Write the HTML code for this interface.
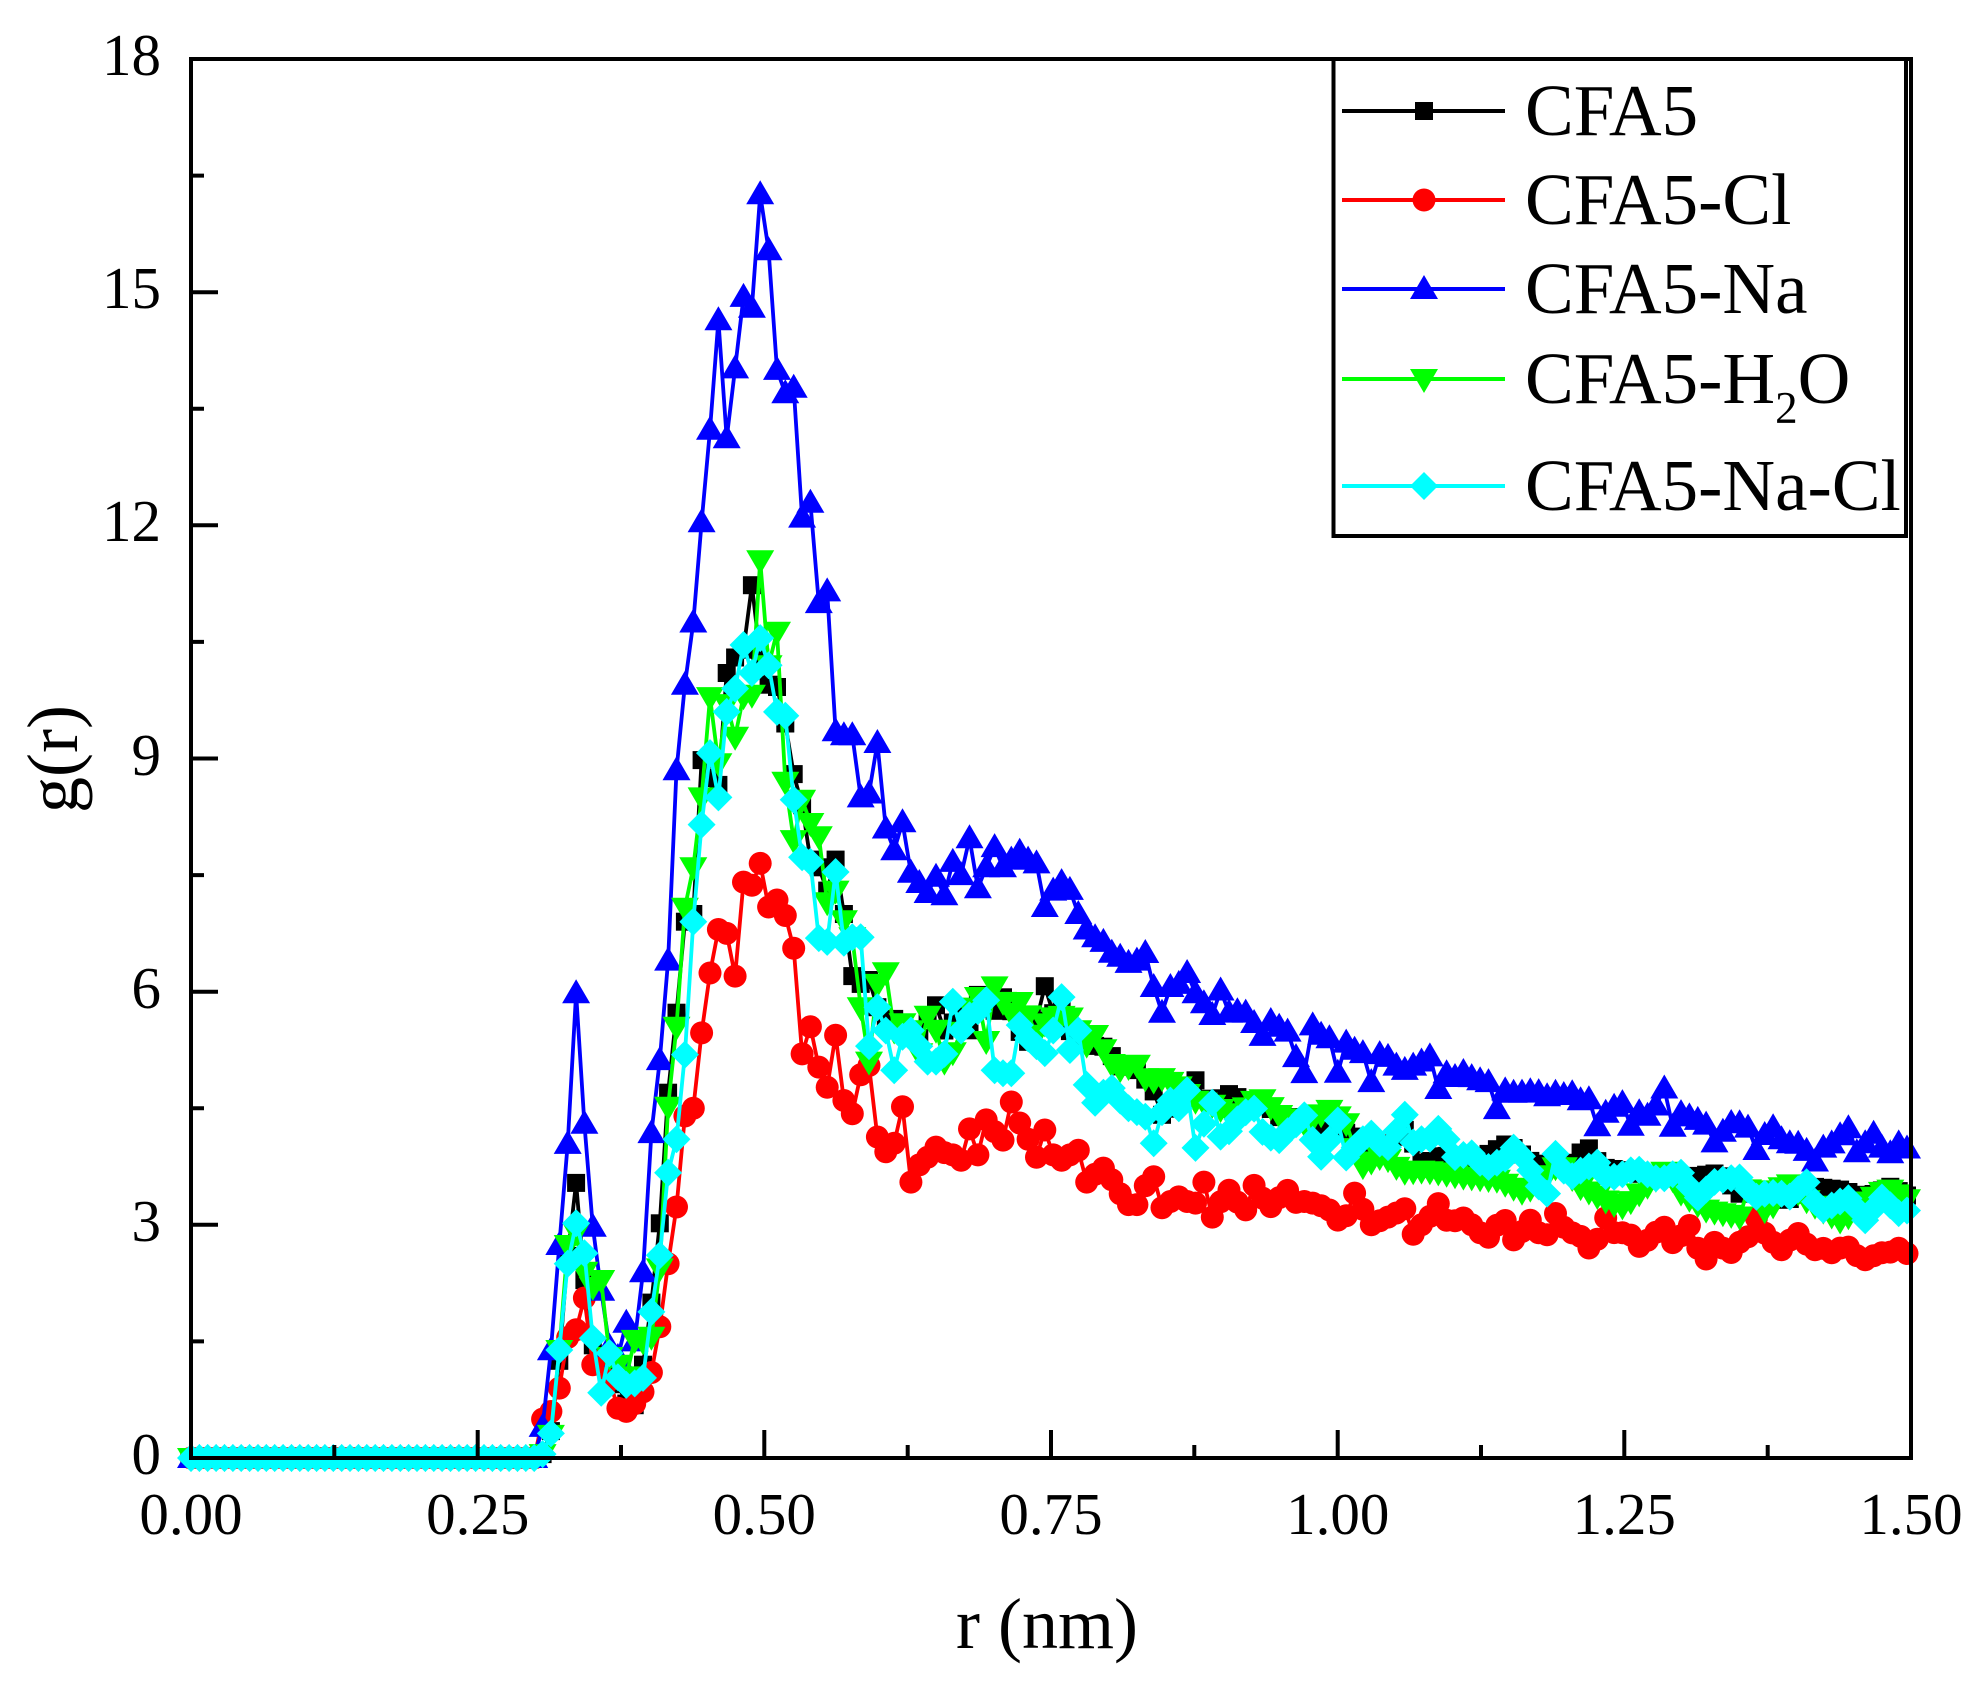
<!DOCTYPE html>
<html>
<head>
<meta charset="utf-8">
<style>
html,body{margin:0;padding:0;background:#fff;}
svg{display:block;}
text{font-family:"Liberation Serif","Times New Roman",serif;fill:#000;}
</style>
</head>
<body>
<svg id="plot" width="1983" height="1685" viewBox="0 0 1983 1685" xmlns="http://www.w3.org/2000/svg">
<rect x="0" y="0" width="1983" height="1685" fill="#fff"/>
<g id="series"></g>
<!-- frame -->
<rect x="191" y="59" width="1720" height="1399" fill="none" stroke="#000" stroke-width="4"/>
<!-- ticks -->
<path fill="none" stroke="#000" stroke-width="4" d="
M191 1458 V1430 M477.7 1458 V1430 M764.3 1458 V1430 M1051 1458 V1430 M1337.7 1458 V1430 M1624.3 1458 V1430 M1911 1458 V1430
M334.3 1458 V1445 M621 1458 V1445 M907.7 1458 V1445 M1194.3 1458 V1445 M1481 1458 V1445 M1767.7 1458 V1445
M191 1458 H218 M191 1224.8 H218 M191 991.7 H218 M191 758.5 H218 M191 525.3 H218 M191 292.2 H218 M191 59 H218
M191 1341.4 H204 M191 1108.3 H204 M191 875.1 H204 M191 641.9 H204 M191 408.8 H204 M191 175.6 H204"/>
<!-- y tick labels -->
<g font-size="59" text-anchor="end">
<text x="161" y="1474">0</text>
<text x="161" y="1241">3</text>
<text x="161" y="1008">6</text>
<text x="161" y="775">9</text>
<text x="161" y="541">12</text>
<text x="161" y="308">15</text>
<text x="161" y="75">18</text>
</g>
<!-- x tick labels -->
<g font-size="59" text-anchor="middle">
<text x="191" y="1534">0.00</text>
<text x="477.7" y="1534">0.25</text>
<text x="764.3" y="1534">0.50</text>
<text x="1051" y="1534">0.75</text>
<text x="1337.7" y="1534">1.00</text>
<text x="1624.3" y="1534">1.25</text>
<text x="1911" y="1534">1.50</text>
</g>
<!-- axis titles -->
<text x="1047" y="1648" font-size="72" text-anchor="middle">r (nm)</text>
<text transform="translate(77,759) rotate(-90)" x="0" y="0" font-size="72" text-anchor="middle">g(r)</text>
<!-- legend -->
<rect x="1333.5" y="59" width="572.5" height="477" fill="#fff" stroke="#000" stroke-width="4"/>
<g stroke-width="4">
<line x1="1342" y1="111" x2="1505" y2="111" stroke="#000"/>
<rect x="1415" y="102" width="18" height="18" fill="#000"/>
<line x1="1342" y1="200" x2="1505" y2="200" stroke="#ff0000"/>
<circle cx="1424" cy="200" r="11.5" fill="#ff0000"/>
<line x1="1342" y1="289" x2="1505" y2="289" stroke="#0000ff"/>
<polygon points="1424,275 1410,299 1438,299" fill="#0000ff"/>
<line x1="1342" y1="379" x2="1505" y2="379" stroke="#00ff00"/>
<polygon points="1410,369 1438,369 1424,393" fill="#00ff00"/>
<line x1="1342" y1="486" x2="1505" y2="486" stroke="#00ffff"/>
<polygon points="1424,472 1438,486 1424,500 1410,486" fill="#00ffff"/>
</g>
<g font-size="73">
<text x="1525" y="135">CFA5</text>
<text x="1525" y="224">CFA5-Cl</text>
<text x="1525" y="313">CFA5-Na</text>
<text x="1525" y="403">CFA5-H<tspan font-size="45" dy="20">2</tspan><tspan dy="-20">O</tspan></text>
<text x="1525" y="510">CFA5-Na-Cl</text>
</g>
</svg>
<script>
(function(){
var BLUE="0,0 0.2993,0 0.3066,0.4 0.314,1.4 0.3212,2.74 0.329,4.13 0.3358,5.98 0.343,4.32 0.350,3.02 0.357,2.23 0.364,1.45 0.3723,1.3 0.3796,1.74 0.3869,1.5 0.3942,2.39 0.4015,4.18 0.4088,5.12 0.4161,6.4 0.4234,8.85 0.4307,9.95 0.438,10.75 0.4453,12.04 0.4526,13.23 0.4599,14.64 0.4672,13.12 0.4745,14.02 0.4818,14.94 0.4891,14.8 0.4964,16.26 0.5037,15.54 0.511,14.0 0.5183,13.7 0.5256,13.77 0.5329,12.1 0.5402,12.29 0.5475,11.0 0.5548,11.15 0.5621,9.35 0.5694,9.3 0.5767,9.3 0.584,8.5 0.5913,8.55 0.5986,9.2 0.6059,8.1 0.6132,7.82 0.6205,8.18 0.6278,7.53 0.635,7.4 0.6424,7.27 0.6497,7.48 0.657,7.24 0.6643,7.67 0.6716,7.5 0.679,7.98 0.6862,7.33 0.6935,7.6 0.7008,7.86 0.7081,7.6 0.7154,7.7 0.7227,7.8 0.73,7.7 0.7373,7.65 0.7446,7.09 0.7519,7.3 0.7592,7.41 0.7665,7.31 0.7738,7.0 0.7811,6.8 0.7884,6.7 0.7957,6.64 0.803,6.5 0.8103,6.45 0.8176,6.37 0.825,6.4 0.832,6.51 0.8395,6.06 0.8468,5.73 0.854,6.06 0.8614,6.1 0.8687,6.24 0.876,5.98 0.8833,5.85 0.8906,5.7 0.898,6.02 0.905,5.73 0.912,5.75 0.92,5.73 0.927,5.6 0.934,5.42 0.942,5.63 0.949,5.55 0.956,5.5 0.964,5.14 0.971,4.95 0.978,5.57 0.985,5.45 0.993,5.4 1.0,4.95 1.007,5.35 1.015,5.25 1.022,5.21 1.029,4.82 1.036,5.2 1.044,5.16 1.051,5.05 1.058,4.99 1.066,5.05 1.073,5.1 1.08,5.19 1.088,4.73 1.095,4.95 1.102,4.9 1.11,4.97 1.117,4.9 1.124,4.86 1.131,4.86 1.139,4.48 1.146,4.73 1.153,4.7 1.16,4.7 1.168,4.72 1.175,4.71 1.182,4.65 1.19,4.7 1.197,4.67 1.204,4.7 1.212,4.6 1.219,4.62 1.226,4.26 1.234,4.45 1.241,4.52 1.248,4.58 1.255,4.26 1.263,4.45 1.27,4.4 1.277,4.52 1.285,4.76 1.292,4.26 1.299,4.44 1.306,4.4 1.314,4.35 1.321,4.3 1.328,4.05 1.336,4.2 1.343,4.31 1.35,4.31 1.358,4.25 1.365,3.96 1.372,4.15 1.38,4.26 1.387,4.1 1.394,4.05 1.401,4.05 1.409,3.95 1.416,3.81 1.423,3.99 1.431,4.05 1.438,4.15 1.445,4.26 1.453,3.92 1.46,4.05 1.467,4.18 1.474,4.0 1.482,3.92 1.489,4.05 1.5,3.95";
var BLACK="0,0 0.2993,0 0.3066,0.05 0.314,0.35 0.3212,1.25 0.3285,2.6 0.3358,3.54 0.343,2.3 0.3504,1.45 0.3577,1.3 0.365,1.05 0.3723,0.95 0.3796,0.7 0.3869,0.68 0.3942,1.2 0.4015,2.0 0.4088,3.02 0.4161,4.7 0.4234,5.73 0.4307,6.9 0.438,7.0 0.4453,8.98 0.4526,8.75 0.4599,8.66 0.4672,10.1 0.4745,10.3 0.4818,10.4 0.4891,11.23 0.4964,10.3 0.5037,9.95 0.511,9.92 0.5183,9.45 0.5256,8.8 0.5329,8.4 0.5402,7.7 0.5475,7.6 0.5548,7.3 0.5621,7.7 0.5694,7.0 0.5767,6.2 0.584,6.1 0.5913,6.15 0.5986,5.8 0.6059,5.6 0.6132,5.65 0.6205,5.6 0.6278,5.5 0.635,5.4 0.6424,5.7 0.65,5.83 0.657,5.5 0.664,5.6 0.672,5.7 0.679,5.5 0.686,5.96 0.694,5.9 0.701,5.75 0.711,6.0 0.718,5.6 0.726,5.4 0.734,5.31 0.743,6.18 0.75,5.7 0.758,5.8 0.766,5.5 0.773,5.4 0.781,5.34 0.789,5.3 0.798,5.29 0.806,5.1 0.813,5.0 0.821,5.06 0.83,4.9 0.837,4.8 0.843,4.6 0.849,4.31 0.857,4.6 0.865,4.7 0.876,4.86 0.884,4.6 0.894,4.6 0.909,4.71 0.92,4.5 0.93,4.55 0.941,4.5 0.955,4.3 0.965,4.4 0.979,4.37 0.99,4.2 1.002,4.22 1.02,4.1 1.04,4.0 1.06,4.24 1.074,3.77 1.09,3.9 1.11,3.85 1.13,3.9 1.148,4.05 1.17,3.8 1.19,3.75 1.205,3.8 1.217,4.03 1.23,3.74 1.25,3.7 1.28,3.6 1.3,3.6 1.333,3.67 1.35,3.4 1.37,3.45 1.39,3.3 1.415,3.49 1.44,3.45 1.46,3.35 1.482,3.49 1.5,3.35";
var RED="0,0 0.2993,0 0.3066,0.5 0.314,0.6 0.3212,0.9 0.3285,1.55 0.3358,1.65 0.343,2.07 0.3504,1.2 0.3577,1.25 0.365,1.0 0.3723,0.64 0.3796,0.6 0.3869,0.7 0.3942,0.85 0.4015,1.1 0.4088,1.69 0.4161,2.5 0.4234,3.23 0.4307,4.4 0.438,4.5 0.4453,5.47 0.4526,6.24 0.4599,6.8 0.4672,6.75 0.4745,6.2 0.4818,7.41 0.4891,7.37 0.4964,7.65 0.5037,7.09 0.511,7.18 0.5183,6.98 0.5256,6.56 0.5329,5.2 0.5402,5.55 0.5475,5.03 0.5548,4.77 0.5621,5.44 0.5694,4.6 0.5767,4.43 0.584,4.93 0.5913,5.05 0.5986,4.13 0.6059,3.94 0.6132,4.05 0.6205,4.52 0.6278,3.55 0.635,3.77 0.6424,3.87 0.6497,4.0 0.657,3.93 0.6643,3.9 0.6716,3.83 0.679,4.24 0.6862,3.9 0.6935,4.35 0.7008,4.2 0.7081,4.09 0.7154,4.58 0.7227,4.31 0.73,4.1 0.7373,3.87 0.7446,4.22 0.7519,3.9 0.7592,3.83 0.7665,3.9 0.7738,3.96 0.7811,3.55 0.7884,3.65 0.7957,3.73 0.803,3.58 0.8103,3.4 0.8176,3.26 0.825,3.26 0.832,3.5 0.8395,3.62 0.8468,3.22 0.854,3.3 0.8614,3.36 0.8687,3.3 0.876,3.28 0.8833,3.55 0.8906,3.1 0.898,3.3 0.905,3.45 0.912,3.3 0.92,3.19 0.927,3.51 0.934,3.35 0.942,3.23 0.949,3.35 0.956,3.45 0.964,3.28 0.971,3.3 0.978,3.28 0.985,3.25 0.993,3.19 1.0,3.06 1.007,3.1 1.015,3.42 1.022,3.2 1.029,3.0 1.036,3.05 1.044,3.1 1.051,3.15 1.058,3.23 1.066,2.87 1.073,3.0 1.08,3.1 1.088,3.28 1.095,3.06 1.102,3.05 1.11,3.09 1.117,3.0 1.124,2.9 1.131,2.83 1.139,3.0 1.146,3.06 1.153,2.8 1.16,2.9 1.168,3.06 1.175,2.9 1.182,2.85 1.19,3.15 1.197,2.97 1.204,2.9 1.212,2.85 1.219,2.7 1.226,2.8 1.234,3.1 1.241,2.9 1.248,2.9 1.255,2.88 1.263,2.72 1.27,2.8 1.277,2.9 1.285,2.97 1.292,2.77 1.299,2.85 1.306,3.02 1.314,2.7 1.321,2.55 1.328,2.78 1.336,2.7 1.343,2.64 1.35,2.77 1.358,2.85 1.365,3.09 1.372,2.9 1.38,2.77 1.387,2.68 1.394,2.8 1.401,2.9 1.409,2.75 1.416,2.68 1.423,2.7 1.431,2.64 1.438,2.7 1.445,2.72 1.453,2.6 1.46,2.55 1.467,2.6 1.474,2.64 1.482,2.65 1.489,2.7 1.5,2.6";
var GREEN="0,0 0.2993,0 0.3066,0.05 0.314,0.3 0.3212,1.39 0.3285,2.74 0.3358,2.9 0.343,2.4 0.3504,2.2 0.3577,2.29 0.365,1.3 0.3723,1.2 0.3796,1.05 0.3869,1.52 0.3942,1.5 0.4015,1.56 0.4088,2.44 0.4161,4.52 0.4234,5.55 0.4307,7.08 0.438,7.6 0.4453,8.5 0.4526,9.79 0.4599,8.94 0.4672,9.7 0.4745,9.28 0.4818,9.8 0.4891,9.82 0.4964,11.55 0.5037,10.2 0.511,10.63 0.5183,8.7 0.5256,7.95 0.5329,8.47 0.5402,8.17 0.5475,8.0 0.5548,7.15 0.5621,7.3 0.5694,6.92 0.5767,6.7 0.584,5.8 0.5913,5.1 0.5986,6.1 0.6059,6.25 0.6132,5.5 0.62,5.6 0.628,5.5 0.635,5.2 0.643,5.73 0.65,5.5 0.657,5.1 0.664,5.21 0.672,5.5 0.679,5.8 0.686,5.95 0.693,5.31 0.70,6.09 0.707,5.9 0.714,5.7 0.726,5.93 0.735,5.4 0.745,5.6 0.755,5.7 0.769,5.66 0.78,5.3 0.79,5.47 0.80,5.1 0.81,5.0 0.825,5.06 0.835,4.82 0.845,4.9 0.86,4.8 0.875,4.6 0.89,4.55 0.91,4.4 0.932,4.65 0.95,4.4 0.97,4.3 0.993,4.48 1.008,4.3 1.02,3.74 1.04,3.9 1.056,3.68 1.075,3.7 1.09,3.67 1.11,3.62 1.139,3.58 1.163,3.41 1.18,3.6 1.194,3.8 1.21,3.5 1.238,3.28 1.25,3.23 1.27,3.5 1.287,3.71 1.30,3.4 1.322,3.19 1.353,3.1 1.36,3.62 1.375,3.1 1.39,3.58 1.41,3.3 1.44,3.04 1.46,3.3 1.48,3.47 1.5,3.3";
var CYAN="0,0 0.2993,0 0.3066,0.05 0.314,0.32 0.3212,1.39 0.3285,2.5 0.3358,3.02 0.343,2.65 0.3504,1.54 0.3577,0.84 0.365,1.35 0.3723,1.04 0.3796,0.94 0.3869,0.96 0.3942,1.03 0.4015,1.88 0.4088,2.61 0.4161,3.67 0.4234,4.1 0.4307,5.19 0.438,6.9 0.4453,8.15 0.4526,9.07 0.4599,8.5 0.4672,9.6 0.4745,9.9 0.4818,10.46 0.4891,10.1 0.4964,10.55 0.5037,10.2 0.511,9.6 0.5183,9.55 0.5256,8.47 0.5329,7.73 0.5402,7.67 0.5475,6.69 0.5548,6.64 0.5621,7.54 0.5694,6.63 0.5767,6.7 0.584,6.7 0.5913,5.3 0.5986,5.8 0.6059,5.5 0.6132,4.99 0.6205,5.42 0.6278,5.5 0.635,5.3 0.6424,5.1 0.6497,5.1 0.657,5.2 0.6643,5.87 0.6716,5.5 0.679,5.7 0.6862,5.75 0.6935,5.89 0.7008,4.99 0.7081,4.95 0.7154,4.95 0.7227,5.57 0.73,5.4 0.7373,5.3 0.7446,5.21 0.7519,5.5 0.7592,5.93 0.7665,5.25 0.7738,5.5 0.7811,4.8 0.7884,4.57 0.7957,4.7 0.803,4.76 0.8103,4.6 0.8176,4.5 0.825,4.45 0.832,4.4 0.8395,4.05 0.8468,4.45 0.854,4.6 0.8614,4.5 0.8687,4.73 0.876,3.99 0.8833,4.3 0.8906,4.57 0.898,4.13 0.905,4.2 0.912,4.35 0.92,4.45 0.927,4.5 0.934,4.2 0.942,4.12 0.949,4.09 0.956,4.2 0.964,4.3 0.971,4.41 0.978,4.1 0.985,3.86 0.993,4.1 1.0,4.35 1.007,3.86 1.015,4.0 1.022,4.1 1.029,4.18 1.036,4.05 1.044,4.0 1.051,4.2 1.058,4.44 1.066,4.05 1.073,4.1 1.08,4.1 1.088,4.24 1.095,4.1 1.102,3.87 1.11,3.9 1.117,3.92 1.124,3.8 1.131,3.74 1.139,3.8 1.146,3.85 1.153,4.0 1.16,3.9 1.168,3.7 1.175,3.5 1.182,3.36 1.19,3.92 1.197,3.7 1.204,3.62 1.212,3.7 1.219,3.75 1.226,3.81 1.234,3.62 1.241,3.62 1.248,3.65 1.255,3.7 1.263,3.71 1.27,3.65 1.277,3.6 1.285,3.6 1.292,3.65 1.299,3.68 1.306,3.5 1.314,3.35 1.321,3.45 1.328,3.55 1.336,3.58 1.343,3.6 1.35,3.62 1.358,3.45 1.365,3.36 1.372,3.4 1.38,3.41 1.387,3.4 1.394,3.36 1.401,3.45 1.409,3.55 1.416,3.3 1.423,3.19 1.431,3.25 1.438,3.3 1.445,3.35 1.453,3.2 1.46,3.06 1.467,3.2 1.474,3.36 1.482,3.25 1.489,3.15 1.5,3.2";

function parse(s){return s.trim().split(/\s+/).map(function(p){var a=p.split(',');return [parseFloat(a[0]),parseFloat(a[1])];});}
function interp(c,r){
  if(r<=c[0][0])return c[0][1];
  for(var j=0;j<c.length-1;j++){
    if(r>=c[j][0]&&r<=c[j+1][0]){
      var t=(r-c[j][0])/(c[j+1][0]-c[j][0]);return c[j][1]+t*(c[j+1][1]-c[j][1]);
    }
  }
  return c[c.length-1][1];
}
function X(r){return 191+r*1146.7;}
function Y(g){return 1458-g*77.72;}
function f(v){return v.toFixed(1);}
function mk(type,x,y,col){
  if(type==='sq')return '<rect x="'+f(x-9)+'" y="'+f(y-9)+'" width="18" height="18" fill="'+col+'"/>';
  if(type==='ci')return '<circle cx="'+f(x)+'" cy="'+f(y)+'" r="11.5" fill="'+col+'"/>';
  if(type==='up')return '<polygon points="'+f(x)+','+f(y-14)+' '+f(x-14)+','+f(y+10)+' '+f(x+14)+','+f(y+10)+'" fill="'+col+'"/>';
  if(type==='dn')return '<polygon points="'+f(x-14)+','+f(y-10)+' '+f(x+14)+','+f(y-10)+' '+f(x)+','+f(y+14)+'" fill="'+col+'"/>';
  return '<polygon points="'+f(x)+','+f(y-14)+' '+f(x+14)+','+f(y)+' '+f(x)+','+f(y+14)+' '+f(x-14)+','+f(y)+'" fill="'+col+'"/>';
}
var S=[["#000000","sq",BLACK],["#ff0000","ci",RED],["#0000ff","up",BLUE],["#00ff00","dn",GREEN],["#00ffff","di",CYAN]];
var html='';
for(var k=0;k<S.length;k++){
  var c=parse(S[k][2]);var pts=[];
  for(var i=0;i<=205;i++){var r=Math.min(i*0.0073,1.5);pts.push([X(r),Y(interp(c,r))]);}
  var d='M'+pts.map(function(p){return f(p[0])+' '+f(p[1]);}).join(' L');
  html+='<path d="'+d+'" fill="none" stroke="'+S[k][0]+'" stroke-width="3.8" stroke-linejoin="round"/>';
  for(var i=0;i<pts.length;i++)html+=mk(S[k][1],pts[i][0],pts[i][1],S[k][0]);
}
document.getElementById('series').innerHTML=html;
})();
</script>
</body>
</html>
